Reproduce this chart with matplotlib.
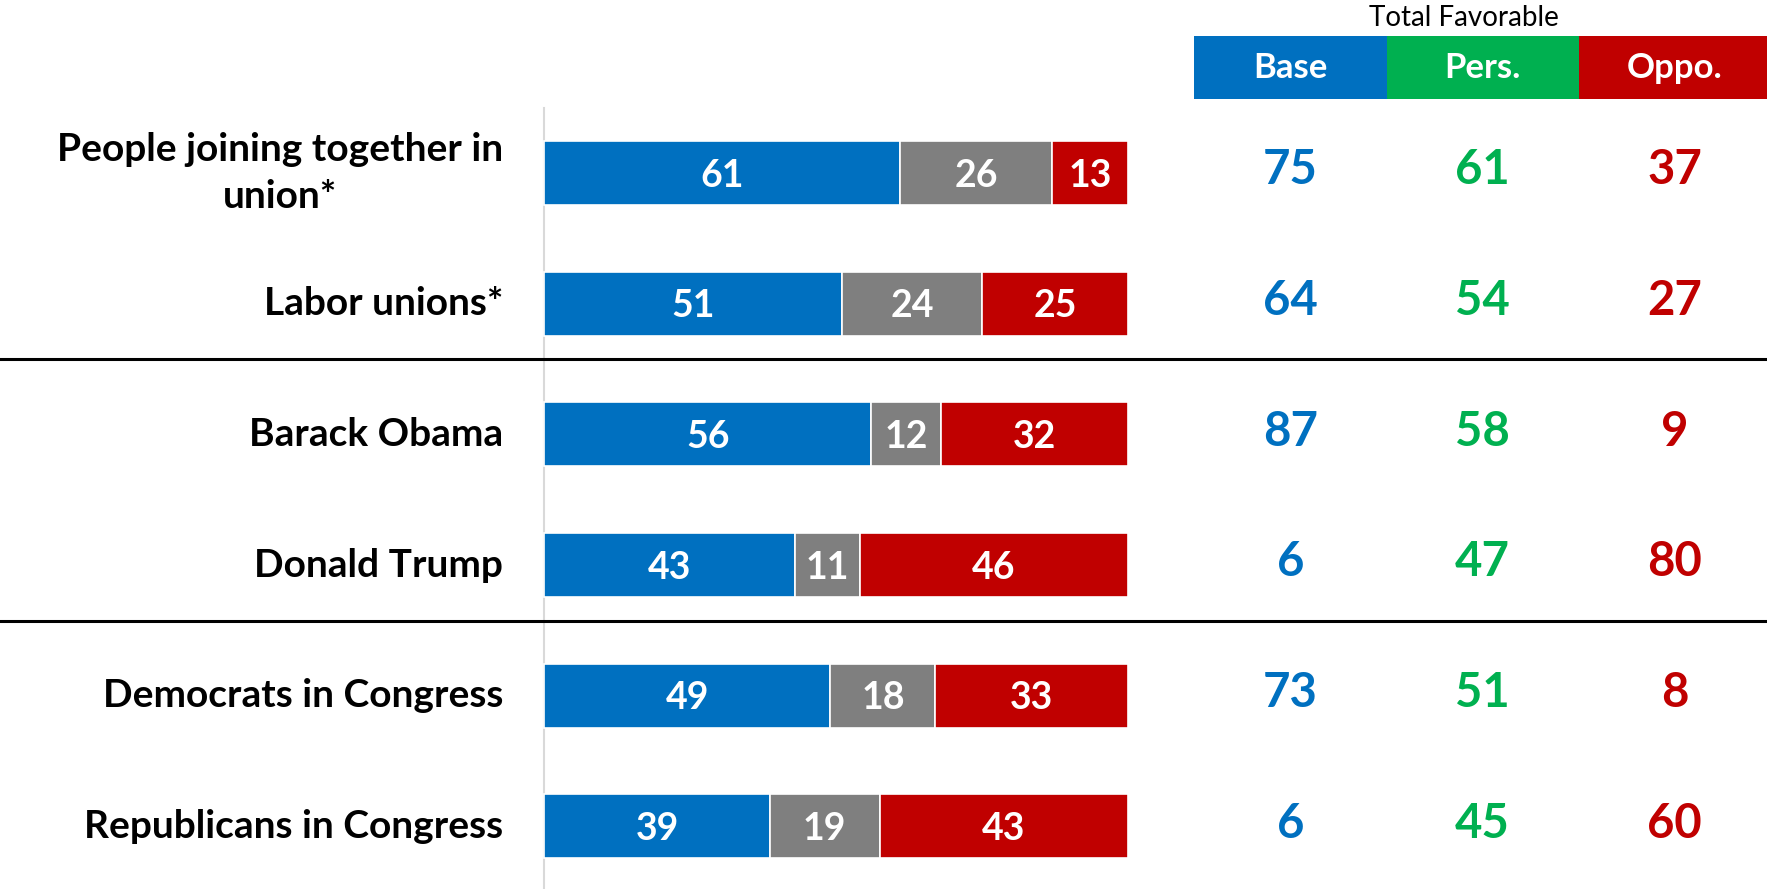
import matplotlib.pyplot as plt

# data
categories = ["People joining together in\nunion*", "Labor unions*", "Barack Obama",
              "Donald Trump", "Democrats in Congress", "Republicans in Congress"]
favorable = [61, 51, 56, 43, 49, 39]
neutral = [26, 24, 12, 11, 18, 19]
unfavorable = [13, 25, 32, 46, 33, 43]

groups = ["Base", "Pers.", "Oppo."]
base_fav = [75, 64, 87, 6, 73, 6]
pers_fav = [61, 54, 58, 47, 51, 45]
oppo_fav = [37, 27, 9, 80, 8, 60]

BLUE = "#0070C0"
GRAY = "#7F7F7F"
RED = "#C00000"
GREEN = "#00B050"
FONT = "Lato"

fig = plt.figure(figsize=(17.67, 8.89), dpi=100)
ax = fig.add_axes([0, 0, 1, 1])
ax.set_xlim(-93.2, 209.4)
ax.set_ylim(5.48, -1.325)
ax.axis("off")

rows = range(len(categories))
totals = [f + n + u for f, n, u in zip(favorable, neutral, unfavorable)]

# 100% stacked bars (labels show the raw values)
left = [0] * len(categories)
for vals, col in [(favorable, BLUE), (neutral, GRAY), (unfavorable, RED)]:
    widths = [v / t * 100 for v, t in zip(vals, totals)]
    bars = ax.barh(rows, widths, left=left, height=0.49, color=col,
                   edgecolor="white", linewidth=1.2)
    for b, v in zip(bars, vals):
        ax.text(b.get_x() + b.get_width() / 2, b.get_y() + b.get_height() / 2 + 0.02,
                str(v), ha="center", va="center", color="white",
                fontsize=27, fontweight="bold", family=FONT)
    left = [l + w for l, w in zip(left, widths)]

# row labels
for i, name in zip(rows, categories):
    ax.text(-7, i, name, ha="right", va="center", multialignment="center",
            fontsize=28, fontweight="bold", family=FONT, linespacing=1.4)

# vertical axis line and separators
ax.plot([0, 0], [-0.5, 5.48], color="#D9D9D9", lw=1.5, zorder=0)
for y in [1.425, 3.43]:
    ax.axhline(y, color="black", lw=2.2)

# right side: total favorable
col_x = [127.8, 160.7, 193.6]
ax.bar(col_x, [0.482] * 3, bottom=-1.049, width=32.9,
       color=[BLUE, GREEN, RED], edgecolor="none")
for x, g in zip(col_x, groups):
    ax.text(x, -0.805, g, ha="center", va="center", color="white",
            fontsize=25, fontweight="bold", family=FONT)
ax.text(157.5, -1.19, "Total Favorable", ha="center", va="center",
        fontsize=20, family=FONT)

for x, vals, col in zip(col_x, [base_fav, pers_fav, oppo_fav], [BLUE, GREEN, RED]):
    for i, v in zip(rows, vals):
        ax.text(x, i - 0.02, str(v), ha="center", va="center", color=col,
                fontsize=34, fontweight="bold", family=FONT)

fig.savefig("out.png", dpi=100)
